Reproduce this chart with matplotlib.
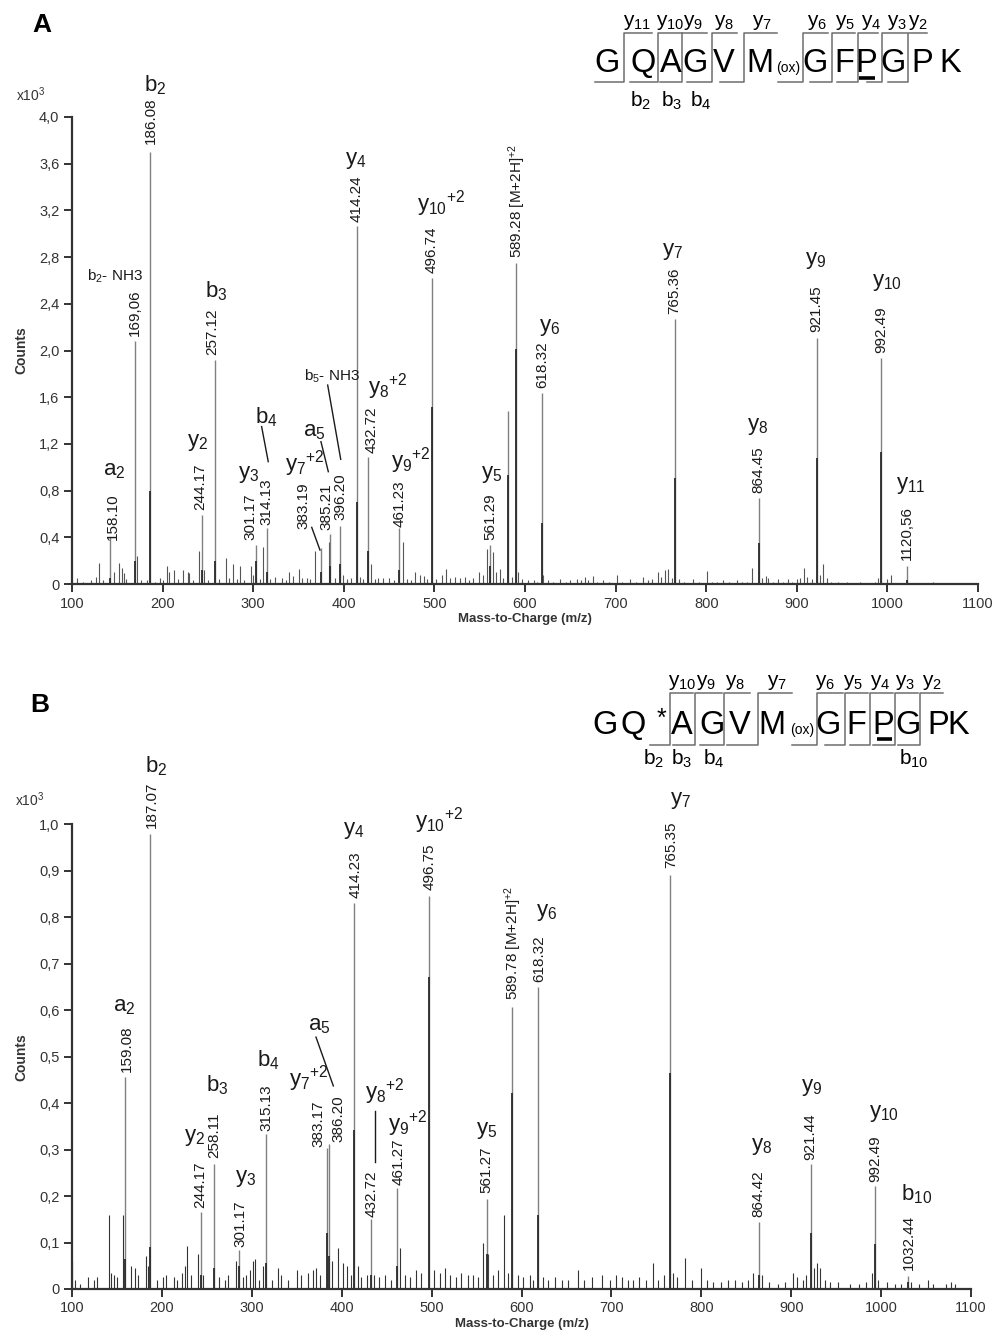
import matplotlib
matplotlib.use("Agg")
import matplotlib.pyplot as plt
from matplotlib.ticker import FixedLocator, FixedFormatter

plt.rcParams['font.family'] = ['Liberation Sans', 'DejaVu Sans']

# ---------------- DATA ----------------
# panel A : labelled peaks (m/z as drawn, counts x10^3, inner dark part)
a_peak_mz = [142.0, 169.5, 186.4, 244.0, 257.5, 302.7, 314.9, 375.2, 385.1, 395.8,
             414.6, 426.4, 461.3, 497.6, 561.4, 581.2, 590.0, 618.4, 766.0, 858.3,
             922.0, 993.0, 1021.3]
a_peak_counts = [0.40, 2.08, 3.70, 0.59, 1.92, 0.33, 0.48, 0.31, 0.43, 0.50,
                 3.07, 1.09, 0.48, 2.62, 0.33, 1.48, 2.75, 1.64, 2.27, 0.74,
                 2.11, 1.94, 0.15]
a_peak_core = [0.05, 0.20, 0.80, 0.12, 0.20, 0.20, 0.10, 0.10, 0.15, 0.17,
               0.70, 0.28, 0.12, 1.52, 0.15, 0.93, 2.01, 0.52, 0.91, 0.35,
               1.08, 1.13, 0.03]
a_mz_labels = ["158.10", "169,06", "186.08", "244.17", "257.12", "301.17", "314.13",
               "383.19", "385.21", "396.20", "414.24", "432.72", "461.23", "496.74",
               "561.29", "", r"589.28 [M+2H]$\mathregular{^{+2}}$", "618.32", "765.36",
               "864.45", "921.45", "992.49", "1120,56"]

# panel A : small background peaks
a_noise_mz = [105, 112, 120.6, 127, 129.8, 134, 146.7, 152.2, 154.8, 157.4, 160, 171.4,
              176, 183, 192, 197, 200, 204.5, 207.4, 212.6, 217, 222, 227.7, 229.5,
              234, 240.2, 245.7, 250, 262, 269.6, 273, 278, 282, 285.4, 290, 297.2,
              300, 307, 311.2, 318, 324, 331.4, 336, 339.8, 344.3, 350.9, 354, 359,
              363, 368.2, 383.3, 390, 399, 404, 408, 418, 421, 430, 434, 438, 443.6,
              450.2, 455, 465, 469.4, 474, 478.6, 484.1, 488.5, 492, 502, 508, 512.5,
              517.2, 522.7, 528.3, 533.8, 538, 543, 549.2, 553.3, 557.7, 564.3, 568,
              572.4, 576, 586, 592.6, 597, 603, 610, 613, 620.2, 625, 631, 638.6, 645,
              650, 657, 662, 666.2, 670, 674.7, 680, 686, 693, 701.2, 707, 715.9, 722,
              730.6, 736, 740, 747.2, 750, 754.5, 758.2, 762, 770, 776, 785.8, 792,
              800.5, 806, 812, 818.9, 825, 833.6, 840, 845, 850.9, 862, 866, 868.6,
              874, 879.6, 885, 889.9, 895, 899.9, 903.5, 907.9, 910.9, 917, 926,
              929.2, 932.9, 938, 945, 955, 962, 969.8, 978, 986, 990, 999.2, 1004,
              1012, 1030, 1040, 1050.7, 1060, 1075, 1090]
a_noise_counts = [0.05, 0.02, 0.03, 0.06, 0.18, 0.03, 0.10, 0.18, 0.14, 0.09, 0.04, 0.24,
                  0.03, 0.03, 0.02, 0.05, 0.03, 0.15, 0.10, 0.12, 0.04, 0.12, 0.10, 0.09,
                  0.03, 0.28, 0.12, 0.03, 0.04, 0.22, 0.05, 0.17, 0.04, 0.15, 0.03, 0.15,
                  0.08, 0.04, 0.32, 0.04, 0.06, 0.05, 0.03, 0.10, 0.07, 0.13, 0.05, 0.05,
                  0.04, 0.28, 0.36, 0.05, 0.08, 0.04, 0.05, 0.06, 0.04, 0.17, 0.04, 0.05, 0.05,
                  0.05, 0.03, 0.36, 0.04, 0.03, 0.10, 0.08, 0.07, 0.04, 0.04, 0.08, 0.13,
                  0.05, 0.06, 0.05, 0.06, 0.03, 0.05, 0.10, 0.08, 0.30, 0.27, 0.10,
                  0.13, 0.05, 0.06, 0.10, 0.04, 0.03, 0.03, 0.02, 0.08, 0.03, 0.02, 0.04, 0.02,
                  0.03, 0.04, 0.03, 0.06, 0.03, 0.07, 0.02, 0.03, 0.02, 0.08, 0.02, 0.04, 0.02,
                  0.06, 0.03, 0.04, 0.10, 0.06, 0.12, 0.13, 0.05, 0.04, 0.02, 0.04, 0.02,
                  0.11, 0.02, 0.02, 0.03, 0.02, 0.03, 0.02, 0.02, 0.14, 0.05, 0.07, 0.05,
                  0.02, 0.04, 0.02, 0.04, 0.02, 0.04, 0.05, 0.14, 0.06, 0.04, 0.08,
                  0.17, 0.05, 0.02, 0.02, 0.02, 0.01, 0.02, 0.01, 0.02, 0.05, 0.04, 0.08,
                  0.01, 0.01, 0.01, 0.02, 0.01, 0.01, 0.01]

# panel B : labelled peaks
b_peak_mz = [159.3, 186.8, 243.5, 257.6, 285.8, 315.4, 383.6, 386.0, 413.7, 432.6,
             461.2, 496.8, 561.3, 589.8, 618.0, 765.5, 864.7, 921.6, 993.0, 1030.0]
b_peak_counts = [0.457, 0.98, 0.166, 0.27, 0.084, 0.334, 0.303, 0.312, 0.83, 0.15,
                 0.218, 0.846, 0.194, 0.607, 0.65, 0.89, 0.145, 0.269, 0.222, 0.027]
b_peak_core = [0.065, 0.09, 0.03, 0.045, 0.05, 0.055, 0.12, 0.07, 0.342, 0.03,
               0.05, 0.672, 0.075, 0.422, 0.159, 0.465, 0.03, 0.12, 0.097, 0.015]
b_mz_labels = ["159.08", "187.07", "244.17", "258.11", "301.17", "315.13", "383.17",
               "386.20", "414.23", "432.72", "461.27", "496.75", "561.27",
               r"589.78 [M+2H]$\mathregular{^{+2}}$", "618.32", "765.35", "864.42",
               "921.44", "992.49", "1032.44"]

b_noise_mz = [100.3, 103, 109, 118, 124, 128, 141, 143, 147, 150, 156.7, 165.6, 170, 173,
              182.3, 184.5, 195, 201, 205, 213, 217, 222, 226, 227.7, 232, 240.5, 246,
              263, 270, 274, 282, 290, 294, 298, 301, 303.5, 308, 312, 322, 329, 333,
              340, 350, 355, 362, 368, 371, 376, 389, 395.5, 401, 406, 410, 418, 422,
              428, 436, 441, 448, 455, 464.5, 470, 476, 483, 488, 503, 509, 515, 521,
              527, 533, 540, 546, 552, 557.6, 563, 568, 574, 581, 585, 596, 602, 609,
              613, 624, 630, 637, 645, 652, 662.5, 670, 678, 690, 698, 705, 712, 718,
              724, 731, 738, 746.6, 752, 758, 768, 773, 782, 790, 800, 806, 813, 822,
              830, 838, 845, 852, 858, 867, 875, 885, 893, 901.6, 907, 913, 917, 925,
              929, 932, 938, 943, 952, 965, 975, 983, 989.5, 997, 1007, 1015, 1022,
              1033, 1042, 1052, 1058, 1072, 1078, 1082]
b_noise_counts = [0.06, 0.02, 0.01, 0.025, 0.02, 0.025, 0.16, 0.035, 0.03, 0.025, 0.16,
                  0.05, 0.045, 0.03, 0.07, 0.05, 0.02, 0.025, 0.03, 0.025, 0.02, 0.035,
                  0.05, 0.093, 0.03, 0.075, 0.03, 0.025, 0.02, 0.03, 0.06, 0.025, 0.03,
                  0.04, 0.06, 0.065, 0.02, 0.05, 0.02, 0.045, 0.03, 0.02, 0.04, 0.03,
                  0.035, 0.04, 0.045, 0.03, 0.06, 0.088, 0.055, 0.05, 0.03, 0.05, 0.025,
                  0.03, 0.03, 0.025, 0.03, 0.02, 0.088, 0.03, 0.025, 0.04, 0.035, 0.04,
                  0.035, 0.045, 0.03, 0.025, 0.035, 0.03, 0.03, 0.025, 0.10, 0.075, 0.03,
                  0.04, 0.16, 0.035, 0.03, 0.025, 0.03, 0.02, 0.025, 0.02, 0.025, 0.02,
                  0.02, 0.04, 0.02, 0.025, 0.03, 0.02, 0.03, 0.025, 0.02, 0.02, 0.025,
                  0.02, 0.055, 0.02, 0.03, 0.035, 0.025, 0.067, 0.02, 0.045, 0.02, 0.015,
                  0.015, 0.02, 0.02, 0.015, 0.02, 0.035, 0.03, 0.015, 0.01, 0.015, 0.035,
                  0.025, 0.02, 0.03, 0.045, 0.055, 0.045, 0.02, 0.015, 0.015, 0.01, 0.01,
                  0.015, 0.035, 0.02, 0.015, 0.01, 0.01, 0.015, 0.01, 0.02, 0.01, 0.01,
                  0.015, 0.01]

a_yticks = [0, 0.4, 0.8, 1.2, 1.6, 2.0, 2.4, 2.8, 3.2, 3.6, 4.0]
a_yticklabels = ["0", "0,4", "0,8", "1,2", "1,6", "2,0", "2,4", "2,8", "3,2", "3,6", "4,0"]
b_yticks = [0, 0.1, 0.2, 0.3, 0.4, 0.5, 0.6, 0.7, 0.8, 0.9, 1.0]
b_yticklabels = ["0", "0,1", "0,2", "0,3", "0,4", "0,5", "0,6", "0,7", "0,8", "0,9", "1,0"]
xticks = [100, 200, 300, 400, 500, 600, 700, 800, 900, 1000, 1100]

seq_a = ['G', 'Q', 'A', 'G', 'V', 'M', '(ox)', 'G', 'F', 'P', 'G', 'P', 'K']
seq_a_top = ['y_{11}', 'y_{10}', 'y_9', 'y_8', 'y_7', 'y_6', 'y_5', 'y_4', 'y_3', 'y_2']
seq_a_bot = ['b_2', 'b_3', 'b_4']
seq_b = ['G', 'Q', '*', 'A', 'G', 'V', 'M', '(ox)', 'G', 'F', 'P', 'G', 'P', 'K']
seq_b_top = ['y_{10}', 'y_9', 'y_8', 'y_7', 'y_6', 'y_5', 'y_4', 'y_3', 'y_2']
seq_b_bot = ['b_2', 'b_3', 'b_4', 'b_{10}']

# ---------------- LAYOUT ----------------
# m/z label positions (data coords, bottom of rotated text)
a_mz_pos = [(145.3, 0.377), (169.5, 2.12), (186.8, 3.77), (241.3, 0.634), (255.3, 1.96),
            (296.5, 0.377), (314.9, 0.505), (356.0, 0.47), (380.4, 0.463), (396.6, 0.548),
            (414.2, 3.10), (430.8, 1.12), (461.3, 0.49), (497.0, 2.66), (562.1, 0.377),
            None, (591.5, 2.79), (619.5, 1.676), (764.5, 2.31), (857.2, 0.78),
            (921.9, 2.16), (993.0, 1.98), (1021.3, 0.206)]
b_mz_pos = [(160.8, 0.468), (188.7, 0.991), (242.4, 0.174), (258.3, 0.281), (286.9, 0.091),
            (316.6, 0.339), (374.0, 0.306), (396.2, 0.317), (415.9, 0.841), (433.4, 0.156),
            (463.0, 0.224), (498.2, 0.859), (561.3, 0.206), (590.9, 0.622), (619.8, 0.661),
            (767.0, 0.905), (863.4, 0.156), (921.7, 0.278), (993.2, 0.231), (1031.4, 0.041)]

# ion labels (text, x, y, size)
a_ions = [('a_2', 146.4, 0.968, 16), ('b_2', 191.6, 4.27, 16), ('b_3', 258.9, 2.51, 16),
          ('y_2', 239.0, 1.21, 16), ('b_4', 314.0, 1.43, 16), ('y_3', 295.4, 0.94, 16),
          ('y_7{}^{+2}', 357.2, 1.035, 16), ('a_5', 367.1, 1.31, 16), ('y_4', 413.5, 3.63, 16),
          ('y_8{}^{+2}', 448.8, 1.69, 16), ('y_{10}{}^{+2}', 508.0, 3.255, 16),
          ('y_9{}^{+2}', 474.2, 1.054, 16), ('y_5', 563.2, 0.94, 16), ('y_6', 627.6, 2.20, 16),
          ('y_7', 762.8, 2.85, 16), ('y_8', 857.2, 1.35, 16), ('y_9', 920.6, 2.77, 16),
          ('y_{10}', 999.2, 2.58, 16), ('y_{11}', 1025.5, 0.84, 16)]
a_small = [('b_2', '- NH3', 148.0, 2.632), ('b_5', '- NH3', 387.5, 1.776)]
a_leaders = [((309.3, 1.348), (316.6, 1.048)), ((364.6, 0.485), (373.7, 0.291)),
             ((374.8, 1.219), (382.9, 0.962)), ((382.2, 1.704), (396.6, 1.068))]

b_ions = [('a_2', 157.8, 0.607, 16), ('b_2', 193.4, 1.125, 16), ('y_2', 236.3, 0.325, 16),
          ('b_3', 261.8, 0.439, 16), ('y_3', 293.0, 0.237, 16), ('b_4', 318.4, 0.493, 16),
          ('y_7{}^{+2}', 363.6, 0.452, 16), ('a_5', 375.3, 0.566, 16), ('y_4', 413.7, 0.986, 16),
          ('y_{10}{}^{+2}', 508.0, 1.009, 16), ('y_8{}^{+2}', 448.5, 0.425, 16),
          ('y_9{}^{+2}', 473.2, 0.355, 16), ('y_5', 560.9, 0.342, 16), ('y_6', 628.4, 0.81, 16),
          ('y_7', 777.0, 1.052, 16), ('y_8', 867.5, 0.306, 16), ('y_9', 923.1, 0.434, 16),
          ('y_{10}', 1003.2, 0.377, 16), ('b_{10}', 1039.6, 0.203, 16)]
b_leaders = [((371.4, 0.542), (390.7, 0.437)), ((436.7, 0.382), (436.7, 0.274))]

W, H = 995, 1341
fig = plt.figure(figsize=(W / 100, H / 100), dpi=100)

# overlay in pixel coordinates for sequences and panel letters
ov = fig.add_axes([0, 0, 1, 1])
ov.set_xlim(0, W)
ov.set_ylim(H, 0)
ov.axis('off')
ov.patch.set_alpha(0)


def spectrum_axes(rect, ylim, yticks, yticklabels):
    ax = fig.add_axes(rect)
    ax.patch.set_alpha(0)
    ax.set_xlim(100, 1100)
    ax.set_ylim(*ylim)
    for s in ['top', 'right']:
        ax.spines[s].set_visible(False)
    for s in ['left', 'bottom']:
        ax.spines[s].set_linewidth(1.6)
        ax.spines[s].set_color('#333333')
    ax.xaxis.set_major_locator(FixedLocator(xticks))
    ax.set_xticklabels([str(t) for t in xticks])
    ax.yaxis.set_major_locator(FixedLocator(yticks))
    ax.yaxis.set_major_formatter(FixedFormatter(yticklabels))
    ax.tick_params(direction='out', length=6, width=1.4, color='#333333',
                   labelsize=10.5, labelcolor='#333333', pad=3)
    ax.set_xlabel('Mass-to-Charge (m/z)', fontsize=9.5, fontweight='bold',
                  color='#333333', labelpad=2)
    ax.set_ylabel('Counts', fontsize=10, fontweight='bold', color='#333333', labelpad=8)
    return ax


def draw_panel(ax, noise_mz, noise_counts, peak_mz, peak_counts, peak_core,
               labels, label_pos, ions, leaders, noise_color):
    ax.vlines(noise_mz, 0, noise_counts, color=noise_color, lw=0.8)
    ax.vlines(peak_mz, 0, peak_counts, color='#808080', lw=1.0)
    ax.vlines(peak_mz, 0, peak_core, color='#2a2a2a', lw=1.3)
    for lab, pos in zip(labels, label_pos):
        if pos is None or not lab:
            continue
        ax.text(pos[0], pos[1], lab, rotation=90, ha='center', va='bottom',
                fontsize=11, color='#1a1a1a')
    for txt, x, y, fs in ions:
        ax.text(x, y, r'$\mathregular{' + txt + '}$', ha='center', va='center',
                fontsize=fs, color='#1a1a1a')
    for p0, p1 in leaders:
        ax.plot([p0[0], p1[0]], [p0[1], p1[1]], color='#1a1a1a', lw=1.0)


# panel A
axA = spectrum_axes([72 / W, 1 - 584 / H, (978 - 72) / W, (584 - 117) / H],
                    (0, 4.0), a_yticks, a_yticklabels)
draw_panel(axA, a_noise_mz, a_noise_counts, a_peak_mz, a_peak_counts, a_peak_core,
           a_mz_labels, a_mz_pos, a_ions, a_leaders, '#555555')
for ion, rest, x, y in a_small:
    axA.text(x, y, r'$\mathregular{' + ion + '}$' + rest, ha='center', va='center',
             fontsize=11, color='#1a1a1a')

# panel B
axB = spectrum_axes([72 / W, 1 - 1289 / H, (971 - 72) / W, (1289 - 824.3) / H],
                    (0, 1.0), b_yticks, b_yticklabels)
draw_panel(axB, b_noise_mz, b_noise_counts, b_peak_mz, b_peak_counts, b_peak_core,
           b_mz_labels, b_mz_pos, b_ions, [], '#333333')
for p0, p1 in b_leaders:
    axB.plot([p0[0], p1[0]], [p0[1], p1[1]], color='#1a1a1a', lw=1.0)

# panel letters and exponent
ov.text(42, 25, 'A', fontsize=19, fontweight='bold', ha='center', va='center')
ov.text(40, 705, 'B', fontsize=19, fontweight='bold', ha='center', va='center')
ov.text(31, 95, r'$\mathregular{x10^3}$', fontsize=10, ha='center', va='center', color='#333333')
ov.text(30, 800, r'$\mathregular{x10^3}$', fontsize=10, ha='center', va='center', color='#333333')


def draw_sequence(letters, letter_x, letter_y, cuts, top_ends, bot_starts, y_top, y_bot,
                  top_labels, top_x, top_y, bot_labels, bot_x, bot_y, underline):
    for ch, x in zip(letters, letter_x):
        if ch == '(ox)':
            ov.text(x, letter_y + 5, ch, fontsize=10, ha='center', va='center')
        elif ch == '*':
            ov.text(x, letter_y - 6, ch, fontsize=18, ha='center', va='center')
        else:
            ov.text(x, letter_y, ch, fontsize=23.5, ha='center', va='center')
    for c, te, bs in zip(cuts, top_ends, bot_starts):
        ov.plot([bs, c, c, te], [y_bot, y_bot, y_top, y_top], color='#6e6e6e', lw=1.1)
    for lab, x in zip(top_labels, top_x):
        ov.text(x, top_y, r'$\mathregular{' + lab + '}$', fontsize=15, ha='center', va='center')
    for lab, x in zip(bot_labels, bot_x):
        ov.text(x, bot_y, r'$\mathregular{' + lab + '}$', fontsize=15, ha='center', va='center')
    ov.plot(underline[0], underline[1], color='black', lw=2.6, solid_capstyle='butt')


draw_sequence(seq_a,
              [606.7, 643.3, 670.7, 695, 724, 760, 788.3, 815, 844.3, 866.7, 893.3, 922.7, 950],
              63.3,
              [624.3, 657.7, 681.7, 711.7, 744.3, 803.3, 831.7, 858.3, 881.7, 908.3],
              [651.7, 681.7, 706.7, 736.7, 776.7, 828.3, 855, 878.3, 906.7, 926.7],
              [595, 630, 660, 686.7, 720, 778.3, 810, 836.7, 866.7, 888.3],
              33.3, 81.7,
              seq_a_top, [637.3, 670, 693.3, 724, 761.7, 817.3, 845, 870.7, 896.7, 918.3], 22,
              seq_a_bot, [640.7, 671.7, 700.7], 101,
              ([859, 875], [77.5, 77.5]))

draw_sequence(seq_b,
              [605, 633.3, 661.7, 682, 711.7, 739.3, 771.7, 801.7, 828, 856, 883.3, 907.7, 938.3, 958.3],
              725,
              [670, 695, 724, 758.3, 816.7, 845, 870, 895, 920],
              [693.3, 721.7, 750, 791.7, 843.3, 868.3, 893.3, 918.3, 943.3],
              [650, 673.3, 700, 726.7, 791.7, 825, 850, 873.3, 898.3],
              693.3, 745,
              seq_b_top, [681.7, 706, 735, 776.7, 825, 853.3, 880, 905, 931.7], 682,
              seq_b_bot, [653.3, 681.7, 713.3, 913.3], 759,
              ([876.7, 891.7], [738.5, 738.5]))

fig.savefig('out.png', dpi=100)
